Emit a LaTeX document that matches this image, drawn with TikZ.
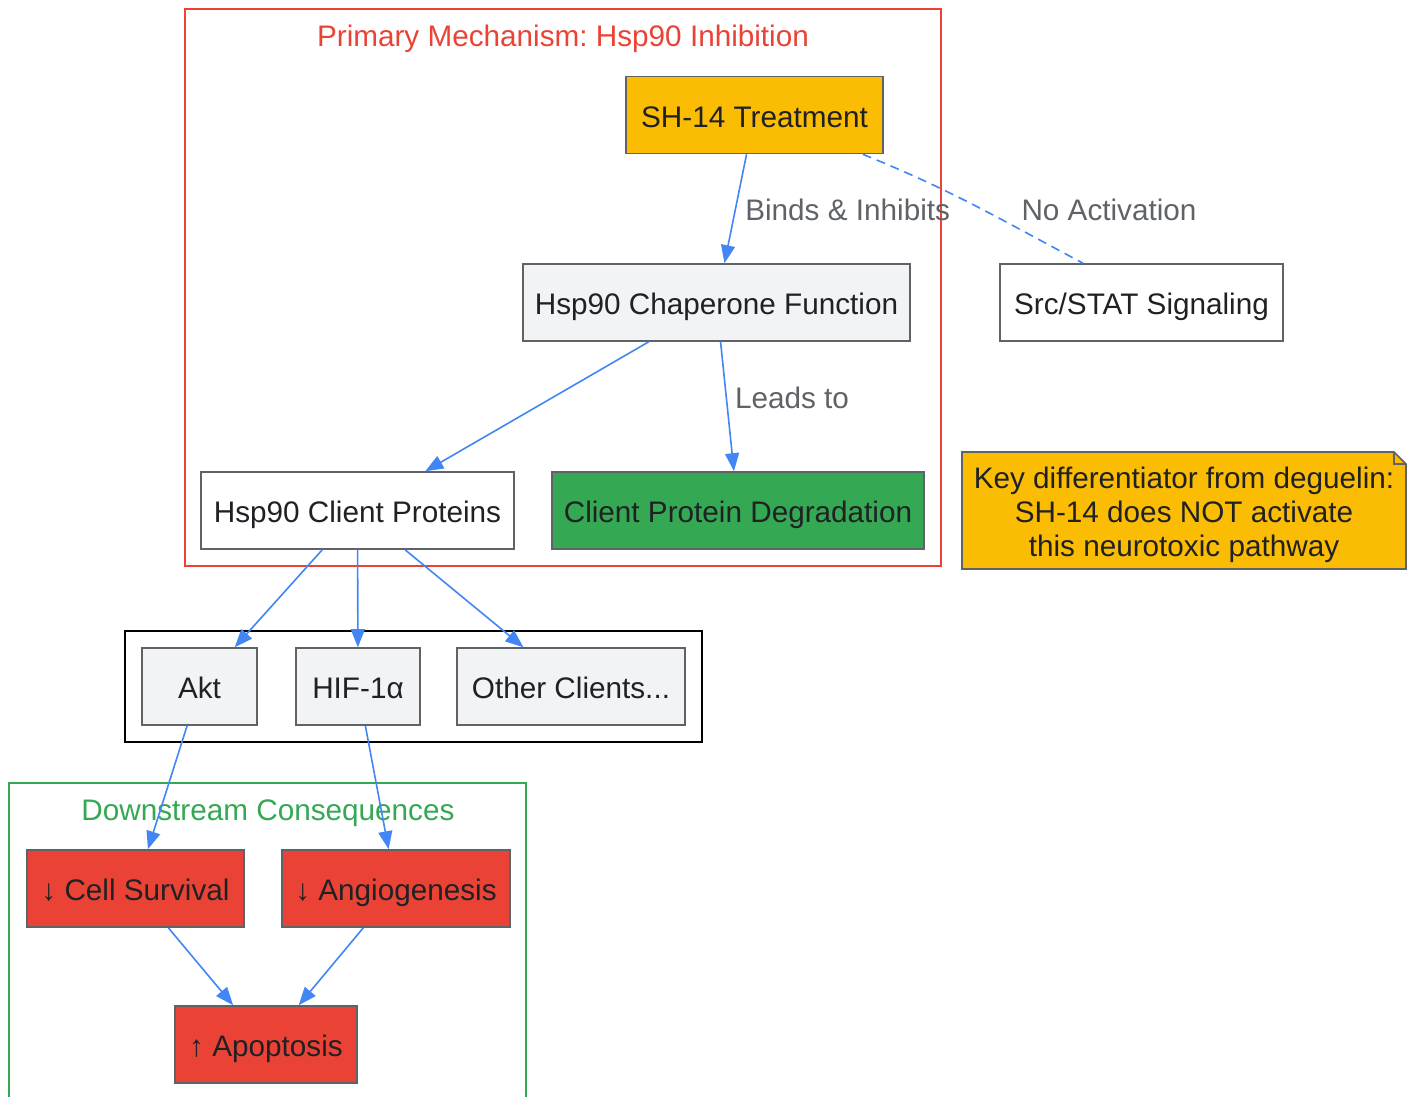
\documentclass[tikz,border=0pt]{standalone}
\usepackage{fontspec}
\setmainfont{Liberation Sans}
\usetikzlibrary{arrows.meta,calc}
\frenchspacing
\definecolor{gyellow}{HTML}{FBBC04}
\definecolor{glight}{HTML}{F1F3F4}
\definecolor{ggreen}{HTML}{34A853}
\definecolor{gred}{HTML}{EA4335}
\definecolor{gblue}{HTML}{4285F4}
\definecolor{gborder}{HTML}{5F6368}
\definecolor{gink}{HTML}{202124}
\tikzset{
  box/.style = {shape=rectangle, draw=gborder, line width=1.6pt, inner sep=0pt,
    text=gink, minimum height=77pt, text height=24pt, text depth=0pt},
  cluster/.style = {shape=rectangle, line width=1.6pt, inner sep=0pt},
  elabel/.style = {text=gborder, inner sep=0pt},
  link/.style = {draw=gblue, line width=1.6pt, -{Triangle[length=18pt,width=14pt]}},
}
\begin{document}
\begin{tikzpicture}[x=1pt, y=-1pt,
  every node/.style = {font=\fontsize{29.7}{34}\selectfont}]
  \clip (0,0) rectangle (1415,1096);
  % groups
  \node[cluster, draw=gred, minimum width=756pt, minimum height=557pt] (primary) at (563,287.5) {};
  \node[text=gred] (primarytitle) at (563,39) {Primary Mechanism: Hsp90 Inhibition};
  \node[cluster, draw=black, minimum width=577pt, minimum height=111pt] (clients) at (413.5,686.5) {};
  \node[cluster, draw=ggreen, minimum width=517pt, minimum height=340pt] (downstream) at (267.5,953) {};
  \node[text=ggreen] (downtitle) at (268,813) {Downstream Consequences};
  % nodes
  \node[box, fill=gyellow, minimum width=257pt] (sh14) at (754.5,115) {SH-14 Treatment};
  \node[box, fill=glight, minimum width=387pt] (chap) at (716.5,302.5) {Hsp90 Chaperone Function};
  \node[box, fill=white, minimum width=283pt] (src) at (1141.5,302.5) {Src/STAT Signaling};
  \node[box, fill=white, minimum width=313pt] (cprot) at (357.5,510.5) {Hsp90 Client Proteins};
  \node[box, fill=ggreen, minimum width=372pt] (degr) at (738,510.5) {Client Protein Degradation};
  \node[box, fill=glight, minimum width=115pt] (akt) at (199.5,686.5) {Akt};
  \node[box, fill=glight, minimum width=124pt] (hif) at (358,686.5) {HIF-1α};
  \node[box, fill=glight, minimum width=228pt] (other) at (571,686.5) {Other Clients...};
  \node[box, fill=gred, minimum width=217pt] (surv) at (135.5,888.5) {↓ Cell Survival};
  \node[box, fill=gred, minimum width=228pt] (angio) at (396,888.5) {↓ Angiogenesis};
  \node[box, fill=gred, minimum width=182pt] (apop) at (266,1044.5) {↑ Apoptosis};
  % note with folded corner
  \coordinate (note) at (1184,510.5);
  \draw[draw=gborder, fill=gyellow, line width=1.6pt]
    ($(note)+(-222,-58.5)$) -- ($(note)+(210,-58.5)$) -- ($(note)+(222,-46.5)$)
    -- ($(note)+(222,58.5)$) -- ($(note)+(-222,58.5)$) -- cycle;
  \draw[draw=gborder, line width=1.2pt]
    ($(note)+(210,-58.5)$) -- ($(note)+(210,-46.5)$) -- ($(note)+(222,-46.5)$);
  \node[inner sep=0pt, text=gink, align=center] (notetext) at ($(note)+(0,4)$)
    {Key differentiator from deguelin:\\SH-14 does NOT activate\\this neurotoxic pathway};
  % connectors
  \draw[link] (sh14) -- (chap) node[elabel, midway, anchor=west, xshift=9pt, yshift=-1.5pt] {Binds \& Inhibits};
  \draw[draw=gblue, line width=1.6pt, dash pattern=on 9pt off 6pt]
    ([xshift=-21pt]sh14.south east) to[out=-22, in=152] ([xshift=-58.5pt]src.north);
  \node[elabel] (noact) at (1109,210) {No Activation};
  \draw[link] (chap) -- (cprot);
  \draw[link] (chap) -- (degr) node[elabel, midway, anchor=west, xshift=7pt, yshift=8.5pt] {Leads to};
  \draw[link] (cprot) -- (akt);
  \draw[link] (cprot) -- (hif);
  \draw[link] (cprot) -- (other);
  \draw[link] (akt) -- (surv);
  \draw[link] (hif) -- (angio);
  \draw[link] (surv) -- (apop);
  \draw[link] (angio) -- (apop);
\end{tikzpicture}
\end{document}
